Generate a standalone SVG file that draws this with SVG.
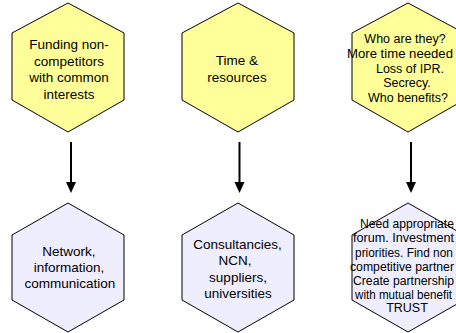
<svg xmlns="http://www.w3.org/2000/svg" width="456" height="333" viewBox="0 0 456 333">
  <style>
    .hex { stroke: #000; stroke-width: 1; }
    .issue { fill: #FFFF99; }
    .answer { fill: #EEEEFF; }
    .lbl { font-family: "Liberation Sans", Arial, sans-serif; font-size: 13.5px; fill: #000; text-anchor: middle; }
    .small { font-size: 12.5px; }
    .start { text-anchor: start; }
    .wire { stroke: #000; stroke-width: 2; fill: none; }
    .head { fill: #000; }
  </style>
  <defs>
    <polygon id="hexTop" points="0,3 56,33 56,100 0,132 -56,100 -56,33"/>
    <polygon id="hexBot" points="0,203 56,235 56,300 0,332 -56,300 -56,235"/>
  </defs>
  <rect width="456" height="333" fill="#fff"/>

  <!-- issue row -->
  <g id="funding">
    <use href="#hexTop" x="68" class="hex issue"/>
    <text class="lbl" x="69" y="49">Funding non-</text>
    <text class="lbl" x="69" y="65.5">competitors</text>
    <text class="lbl" x="69" y="82">with common</text>
    <text class="lbl" x="69" y="98.5">interests</text>
  </g>
  <g id="time">
    <use href="#hexTop" x="238" class="hex issue"/>
    <text class="lbl" x="237" y="65">Time &amp;</text>
    <text class="lbl" x="237" y="82">resources</text>
  </g>
  <g id="concerns">
    <use href="#hexTop" x="408" class="hex issue"/>
    <text class="lbl small" x="405" y="43">Who are they?</text>
    <text class="lbl small start" x="347" y="58" textLength="106" lengthAdjust="spacingAndGlyphs">More time needed</text>
    <text class="lbl small" x="410" y="72.5">Loss of IPR.</text>
    <text class="lbl small" x="407" y="87">Secrecy.</text>
    <text class="lbl small" x="408" y="101.5">Who benefits?</text>
  </g>

  <!-- answer row -->
  <g id="network">
    <use href="#hexBot" x="68" class="hex answer"/>
    <text class="lbl" x="69" y="256">Network,</text>
    <text class="lbl" x="69" y="272">information,</text>
    <text class="lbl" x="70" y="288">communication</text>
  </g>
  <g id="partners">
    <use href="#hexBot" x="238" class="hex answer"/>
    <text class="lbl" x="237.5" y="248.5">Consultancies,</text>
    <text class="lbl" x="235" y="265">NCN,</text>
    <text class="lbl" x="238" y="281.5">suppliers,</text>
    <text class="lbl" x="238" y="297.5">universities</text>
  </g>
  <g id="forum">
    <use href="#hexBot" x="408" class="hex answer"/>
    <text class="lbl small start" x="360" y="228" textLength="94" lengthAdjust="spacingAndGlyphs">Need appropriate</text>
    <text class="lbl small start" x="353" y="242" textLength="101" lengthAdjust="spacingAndGlyphs">forum. Investment</text>
    <text class="lbl small start" x="355" y="256.5" textLength="98" lengthAdjust="spacingAndGlyphs">priorities. Find non</text>
    <text class="lbl small start" x="350" y="271" textLength="104" lengthAdjust="spacingAndGlyphs">competitive partner</text>
    <text class="lbl small start" x="353" y="285" textLength="101" lengthAdjust="spacingAndGlyphs">Create partnership</text>
    <text class="lbl small start" x="355" y="299" textLength="97" lengthAdjust="spacingAndGlyphs">with mutual benefit</text>
    <text class="lbl small" x="407" y="312">TRUST</text>
  </g>

  <!-- connectors -->
  <g id="connectors">
    <line class="wire" x1="71" y1="142" x2="71" y2="184"/>
    <polygon class="head" points="66,182 76,182 71,193"/>
    <line class="wire" x1="239.5" y1="142" x2="239.5" y2="184"/>
    <polygon class="head" points="234.5,182 244.5,182 239.5,193"/>
    <line class="wire" x1="411" y1="142" x2="411" y2="184"/>
    <polygon class="head" points="406,182 416,182 411,193"/>
  </g>
</svg>
